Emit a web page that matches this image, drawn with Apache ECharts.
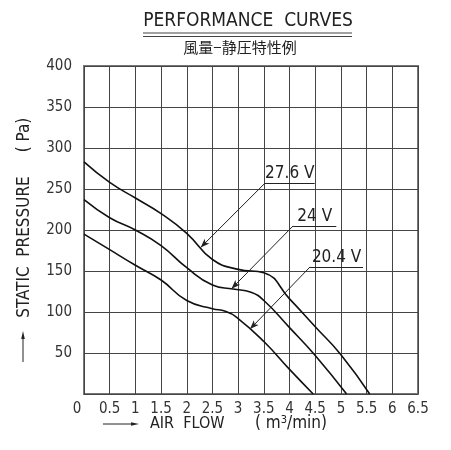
<!DOCTYPE html>
<html>
<head>
<meta charset="utf-8">
<title>Performance curves</title>
<script src="https://cdn.jsdelivr.net/npm/echarts@6/dist/echarts.min.js"></script>
<style>
  html, body { margin: 0; padding: 0; background: #fff; }
  #chart { width: 451px; height: 450px; }
</style>
</head>
<body>
<div id="chart"></div>
<script>
// air flow (m3/min) and static pressure (Pa)
const flow276 = [0, 0.5, 1, 1.5, 2, 2.5, 3, 3.5, 4, 4.5, 5, 5.56];
const pres276 = [283, 258, 239, 220, 196, 164, 152, 148, 116, 82, 48, 0];

const flow24 = [0, 0.5, 1, 1.5, 2, 2.5, 2.9, 3.25, 3.5, 4, 4.5, 5.11];
const pres24 = [237, 215, 200, 181, 154, 133, 128, 124, 114, 81, 47, 0];

const flow204 = [0, 0.5, 1, 1.5, 2, 2.5, 2.75, 3, 3.5, 4, 4.46];
const pres204 = [195, 176, 157, 139, 114, 104, 101, 92, 64, 30, 0];

const voltLabels = ['27.6 V', '24 V', '20.4 V'];
// where each leader arrow touches its curve (flow value)
const arrowFlow = [2.27, 2.87, 3.23];
// underline start / end (flow) and height (Pa) of each voltage tag
const tagFrom = [3.52, 4.07, 4.40];
const tagTo = [4.49, 4.91, 5.43];
const tagPres = [257, 205, 155];

const xTicks = { min: 0, max: 6.5, step: 0.5 };
const yTicks = { min: 0, max: 400, step: 50 };

const FONT = '"Liberation Sans Narrow", "DejaVu Sans Condensed", sans-serif';
const INK = '#222';

function zip(xs, ys) { return xs.map((x, i) => [x, ys[i]]); }

// linear lookup on a curve so the arrow tip sits on the line
function presAt(xs, ys, x) {
    for (let i = 1; i < xs.length; i++) {
        if (x <= xs[i]) {
            const t = (x - xs[i - 1]) / (xs[i] - xs[i - 1]);
            return ys[i - 1] + t * (ys[i] - ys[i - 1]);
        }
    }
    return ys[ys.length - 1];
}

const curves = [[flow276, pres276], [flow24, pres24], [flow204, pres204]];

const series = curves.map(([xs, ys], i) => ({
    name: voltLabels[i],
    type: 'line',
    data: zip(xs, ys),
    smooth: 0.5,
    showSymbol: false,
    lineStyle: { color: '#111', width: 1.6 },
    silent: true,
    markLine: {
        silent: true,
        animation: false,
        lineStyle: { color: INK, width: 1, type: 'solid' },
        data: [
            [
                { coord: [tagFrom[i], tagPres[i]], symbol: 'none' },
                { coord: [arrowFlow[i], presAt(xs, ys, arrowFlow[i])], symbol: 'arrow', symbolSize: [5, 9] }
            ],
            [
                { coord: [tagFrom[i], tagPres[i]], symbol: 'none' },
                { coord: [tagTo[i], tagPres[i]], symbol: 'none' }
            ]
        ],
        label: {
            show: true,
            position: 'insideMiddleTop',
            distance: 1,
            formatter: (p) => p.dataIndex === 1 ? voltLabels[i] : '',
            fontFamily: FONT,
            fontSize: 17,
            color: INK
        }
    }
}));

const chart = echarts.init(document.getElementById('chart'));

chart.setOption({
    animation: false,
    backgroundColor: '#fff',
    grid: {
        left: 84, right: 33, top: 66, bottom: 56,
        show: true, borderColor: '#777', borderWidth: 2
    },
    xAxis: {
        type: 'value',
        min: xTicks.min, max: xTicks.max, interval: xTicks.step,
        axisLine: { show: false },
        axisTick: { show: false },
        splitLine: { show: true, lineStyle: { color: '#444', width: 1 } },
        axisLabel: {
            margin: 8,
            fontFamily: FONT, fontSize: 15, color: '#333',
            formatter: (v) => v === 0 ? '{z|0}' : String(v),
            rich: { z: { fontFamily: FONT, fontSize: 15, color: '#333', padding: [0, 14, 0, 0] } }
        }
    },
    yAxis: {
        type: 'value',
        min: yTicks.min, max: yTicks.max, interval: yTicks.step,
        axisLine: { show: false },
        axisTick: { show: false },
        splitLine: { show: true, lineStyle: { color: '#444', width: 1 } },
        axisLabel: {
            margin: 12,
            fontFamily: FONT, fontSize: 15, color: '#333',
            formatter: (v) => v === 0 ? '' : String(v)
        }
    },
    graphic: [
        // title with its double rule
        { type: 'text', x: 248, y: 21, style: { text: 'PERFORMANCE  CURVES', font: '19px ' + FONT, fill: INK, textAlign: 'center', textVerticalAlign: 'middle' } },
        { type: 'line', shape: { x1: 143, y1: 33, x2: 352, y2: 33 }, style: { stroke: '#444', lineWidth: 1.2 } },
        { type: 'line', shape: { x1: 143, y1: 36.5, x2: 352, y2: 36.5 }, style: { stroke: '#444', lineWidth: 1.2 } },
        { type: 'text', x: 240, y: 47, style: { text: '風量−静圧特性例', font: '15px "Noto Sans CJK JP"', fill: INK, textAlign: 'center', textVerticalAlign: 'middle' } },
        // y axis title
        { type: 'text', x: 25, y: 247, rotation: Math.PI / 2, style: { text: 'STATIC  PRESSURE', font: '17px ' + FONT, fill: INK, textAlign: 'center', textVerticalAlign: 'middle' } },
        { type: 'text', x: 25, y: 135, rotation: Math.PI / 2, style: { text: '( Pa)', font: '17px ' + FONT, fill: INK, textAlign: 'center', textVerticalAlign: 'middle' } },
        { type: 'line', shape: { x1: 23, y1: 362, x2: 23, y2: 336 }, style: { stroke: INK, lineWidth: 1 } },
        { type: 'polygon', shape: { points: [[23, 331], [21.2, 339], [24.8, 339]] }, style: { fill: INK } },
        // x axis title
        { type: 'line', shape: { x1: 103, y1: 424, x2: 133, y2: 424 }, style: { stroke: INK, lineWidth: 1 } },
        { type: 'polygon', shape: { points: [[139, 424], [131, 422.2], [131, 425.8]] }, style: { fill: INK } },
        { type: 'text', x: 150, y: 424, style: { text: 'AIR  FLOW', font: '16px ' + FONT, fill: INK, textVerticalAlign: 'middle' } },
        {
            type: 'text', x: 255, y: 424,
            style: {
                text: '( m{s|3}/min)', font: '17px ' + FONT, fill: INK, textVerticalAlign: 'middle',
                rich: { s: { font: '11px ' + FONT, fill: INK, padding: [0, 0, 8, 0] } }
            }
        }
    ],
    series: series
});

window.onresize = () => {
    chart.resize()
}
</script>
</body>
</html>
